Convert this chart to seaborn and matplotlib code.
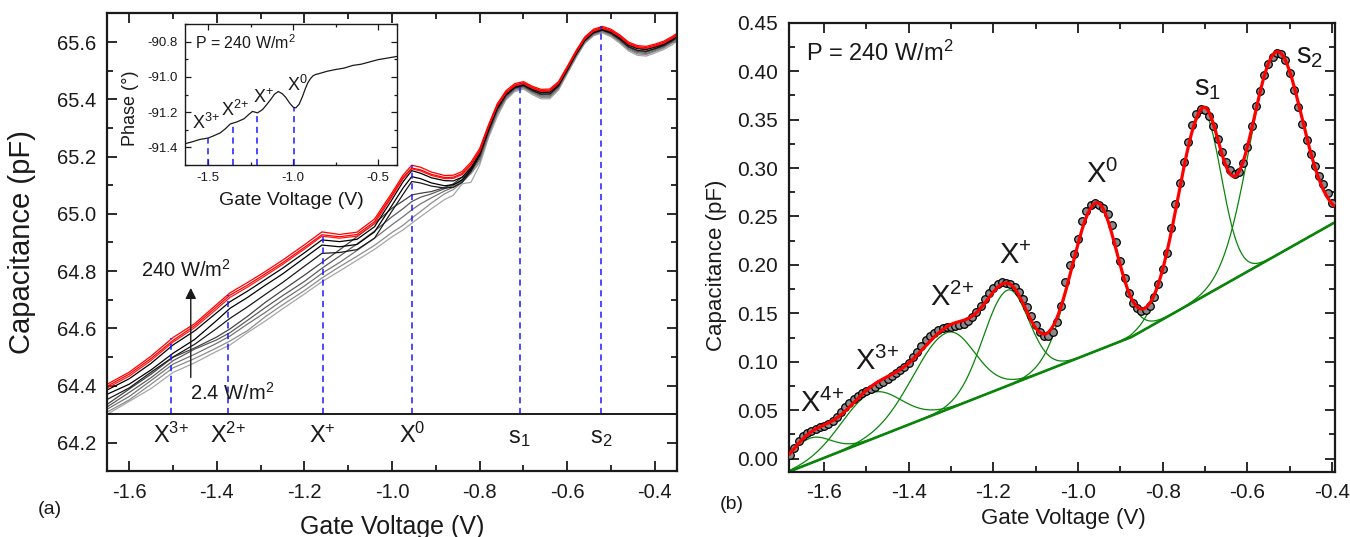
import matplotlib
matplotlib.use("Agg")
import matplotlib.pyplot as plt
from matplotlib.ticker import MultipleLocator, FormatStrFormatter
import numpy as np
import pandas as pd
import seaborn as sns

sns.set_theme(style="ticks", rc={"text.color": "k", "axes.labelcolor": "k",
                                 "xtick.color": "k", "ytick.color": "k",
                                 "axes.edgecolor": "k"})
plt.rcParams["font.family"] = ["Liberation Sans", "DejaVu Sans"]
plt.rcParams["mathtext.fontset"] = "custom"
plt.rcParams["mathtext.rm"] = "Liberation Sans"
plt.rcParams["mathtext.it"] = "Liberation Sans:italic"
plt.rcParams["mathtext.bf"] = "Liberation Sans:bold"
plt.rcParams["axes.unicode_minus"] = False

# ---------------- panel (a): C(V) for increasing illumination power
GATE_V = [-1.65, -1.60, -1.55, -1.50, -1.45, -1.40, -1.37, -1.33, -1.29, -1.25,
          -1.20, -1.16, -1.12, -1.08, -1.04, -1.00, -0.975, -0.955, -0.935, -0.91,
          -0.88, -0.86, -0.84, -0.82, -0.80, -0.78, -0.76, -0.74, -0.72, -0.70,
          -0.68, -0.66, -0.64, -0.62, -0.60, -0.58, -0.56, -0.54, -0.52, -0.50,
          -0.48, -0.46, -0.44, -0.42, -0.40, -0.38, -0.36, -0.35]

RED_1 = [64.405, 64.447, 64.503, 64.568, 64.617, 64.684, 64.724, 64.760, 64.798, 64.838,
         64.892, 64.937, 64.928, 64.936, 64.982, 65.074, 65.135, 65.170, 65.163, 65.146,
         65.134, 65.135, 65.148, 65.180, 65.228, 65.310, 65.384, 65.430, 65.455, 65.462,
         65.446, 65.435, 65.436, 65.462, 65.515, 65.570, 65.618, 65.645, 65.655, 65.645,
         65.625, 65.600, 65.588, 65.585, 65.593, 65.603, 65.620, 65.630]
RED_2 = [64.398, 64.440, 64.495, 64.558, 64.610, 64.676, 64.716, 64.751, 64.790, 64.829,
         64.883, 64.927, 64.920, 64.928, 64.973, 65.066, 65.127, 65.160, 65.154, 65.138,
         65.127, 65.128, 65.141, 65.173, 65.221, 65.305, 65.379, 65.425, 65.450, 65.458,
         65.442, 65.431, 65.432, 65.458, 65.511, 65.566, 65.614, 65.641, 65.651, 65.641,
         65.621, 65.596, 65.584, 65.581, 65.589, 65.599, 65.616, 65.626]
RED_3 = [64.392, 64.433, 64.488, 64.552, 64.603, 64.668, 64.708, 64.744, 64.783, 64.823,
         64.877, 64.922, 64.915, 64.922, 64.966, 65.060, 65.122, 65.157, 65.150, 65.134,
         65.123, 65.124, 65.137, 65.169, 65.217, 65.302, 65.376, 65.422, 65.447, 65.455,
         65.439, 65.428, 65.429, 65.455, 65.508, 65.563, 65.611, 65.638, 65.648, 65.638,
         65.618, 65.593, 65.581, 65.578, 65.586, 65.596, 65.613, 65.623]
BLACK_1 = [64.385, 64.424, 64.478, 64.542, 64.592, 64.655, 64.693, 64.730, 64.770, 64.810,
           64.864, 64.909, 64.903, 64.911, 64.955, 65.050, 65.112, 65.151, 65.142, 65.126,
           65.116, 65.115, 65.128, 65.162, 65.213, 65.297, 65.372, 65.420, 65.445, 65.453,
           65.437, 65.426, 65.427, 65.453, 65.506, 65.561, 65.609, 65.636, 65.646, 65.636,
           65.616, 65.591, 65.579, 65.576, 65.584, 65.594, 65.611, 65.621]
BLACK_2 = [64.370, 64.405, 64.455, 64.513, 64.562, 64.628, 64.670, 64.708, 64.750, 64.790,
           64.846, 64.891, 64.885, 64.893, 64.937, 65.030, 65.090, 65.130, 65.123, 65.108,
           65.098, 65.102, 65.118, 65.155, 65.208, 65.293, 65.369, 65.417, 65.443, 65.451,
           65.435, 65.424, 65.425, 65.451, 65.504, 65.559, 65.607, 65.634, 65.644, 65.634,
           65.614, 65.589, 65.577, 65.574, 65.582, 65.592, 65.609, 65.619]
BLACK_3 = [64.352, 64.392, 64.447, 64.500, 64.545, 64.600, 64.635, 64.675, 64.718, 64.760,
           64.817, 64.862, 64.865, 64.875, 64.915, 65.010, 65.068, 65.113, 65.108, 65.097,
           65.090, 65.093, 65.110, 65.148, 65.203, 65.290, 65.366, 65.414, 65.440, 65.448,
           65.431, 65.418, 65.419, 65.447, 65.501, 65.557, 65.605, 65.632, 65.642, 65.631,
           65.610, 65.584, 65.571, 65.568, 65.577, 65.588, 65.606, 65.616]
GRAY_1 = [64.335, 64.388, 64.440, 64.499, 64.532, 64.570, 64.598, 64.642, 64.690, 64.733,
          64.786, 64.830, 64.874, 64.920, 64.966, 65.020, 65.045, 65.066, 65.072, 65.078,
          65.092, 65.105, 65.128, 65.158, 65.205, 65.288, 65.364, 65.414, 65.441, 65.449,
          65.432, 65.419, 65.419, 65.447, 65.502, 65.558, 65.606, 65.633, 65.643, 65.632,
          65.611, 65.584, 65.571, 65.568, 65.577, 65.589, 65.606, 65.617]
GRAY_2 = [64.326, 64.376, 64.428, 64.487, 64.528, 64.560, 64.585, 64.628, 64.672, 64.714,
          64.764, 64.810, 64.852, 64.895, 64.940, 64.990, 65.018, 65.043, 65.058, 65.070,
          65.088, 65.099, 65.120, 65.152, 65.195, 65.282, 65.359, 65.410, 65.438, 65.446,
          65.428, 65.415, 65.415, 65.444, 65.499, 65.555, 65.604, 65.631, 65.641, 65.629,
          65.607, 65.581, 65.567, 65.564, 65.574, 65.585, 65.603, 65.614]
GRAY_3 = [64.318, 64.362, 64.418, 64.475, 64.510, 64.548, 64.573, 64.615, 64.655, 64.698,
          64.748, 64.792, 64.830, 64.872, 64.915, 64.962, 64.990, 65.014, 65.035, 65.056,
          65.080, 65.093, 65.115, 65.145, 65.190, 65.278, 65.354, 65.406, 65.435, 65.443,
          65.425, 65.411, 65.411, 65.440, 65.496, 65.552, 65.601, 65.628, 65.638, 65.626,
          65.604, 65.577, 65.563, 65.560, 65.570, 65.582, 65.600, 65.611]
GRAY_4 = [64.308, 64.350, 64.405, 64.462, 64.495, 64.532, 64.556, 64.592, 64.640, 64.682,
          64.732, 64.776, 64.815, 64.852, 64.890, 64.935, 64.960, 64.985, 65.008, 65.038,
          65.070, 65.085, 65.110, 65.140, 65.180, 65.272, 65.349, 65.402, 65.431, 65.440,
          65.422, 65.407, 65.407, 65.437, 65.493, 65.549, 65.598, 65.625, 65.635, 65.623,
          65.601, 65.574, 65.559, 65.556, 65.567, 65.579, 65.597, 65.608]
GRAY_5 = [64.300, 64.345, 64.390, 64.446, 64.480, 64.520, 64.542, 64.585, 64.625, 64.668,
          64.720, 64.763, 64.800, 64.838, 64.876, 64.920, 64.944, 64.967, 64.990, 65.018,
          65.050, 65.065, 65.105, 65.110, 65.170, 65.265, 65.339, 65.398, 65.427, 65.436,
          65.417, 65.402, 65.402, 65.432, 65.489, 65.545, 65.595, 65.622, 65.632, 65.619,
          65.596, 65.569, 65.554, 65.551, 65.562, 65.574, 65.591, 65.604]

CURVE_NAMES = ["g5", "g4", "g3", "g2", "g1", "k3", "k2", "k1", "r3", "r2", "r1"]
CURVE_DATA = [GRAY_5, GRAY_4, GRAY_3, GRAY_2, GRAY_1, BLACK_3, BLACK_2, BLACK_1,
              RED_3, RED_2, RED_1]
CURVE_COLORS = ["#a6a6a6", "#8c8c8c", "#747474", "#5c5c5c", "#444444",
                "#1a1a1a", "#000000", "#000000", "#ff1a1a", "#ff0000", "#ff0000"]

# resonance positions marked in panel (a)
MARK_V = [-1.504, -1.374, -1.158, -0.954, -0.709, -0.523]
MARK_TOP = [64.565, 64.716, 64.938, 65.170, 65.462, 65.655]
MARK_LABELS = [r"X$^{\mathregular{3{+}}}$", r"X$^{\mathregular{2{+}}}$", r"X$^{\mathregular{{+}}}$",
               r"X$^{\mathregular{0}}$", r"s$_{\mathregular{1}}$", r"s$_{\mathregular{2}}$"]

# ---------------- inset: phase at 240 W/m2
PHASE_V = [-1.637, -1.60, -1.55, -1.50, -1.47, -1.43, -1.40, -1.37, -1.33, -1.29,
           -1.26, -1.24, -1.21, -1.18, -1.155, -1.13, -1.11, -1.088, -1.065, -1.045,
           -1.02, -1.00, -0.985, -0.965, -0.945, -0.93, -0.915, -0.90, -0.885, -0.87,
           -0.85, -0.80, -0.75, -0.70, -0.65, -0.60, -0.55, -0.50, -0.45, -0.39]
PHASE = [-91.379, -91.370, -91.355, -91.347, -91.335, -91.318, -91.295, -91.267, -91.255, -91.238,
         -91.212, -91.196, -91.204, -91.185, -91.156, -91.125, -91.098, -91.083, -91.095, -91.115,
         -91.150, -91.172, -91.176, -91.155, -91.110, -91.070, -91.035, -91.012, -90.995, -90.987,
         -90.982, -90.968, -90.958, -90.950, -90.935, -90.928, -90.915, -90.902, -90.894, -90.884]
INSET_MARK_V = [-1.50, -1.357, -1.212, -0.994]
INSET_MARK_TOP = [-91.347, -91.267, -91.204, -91.177]
INSET_LABEL_V = [-1.514, -1.343, -1.177, -0.973]
INSET_LABEL_Y = [-91.263, -91.187, -91.115, -91.046]
INSET_LABELS = [r"X$^{\mathregular{3{+}}}$", r"X$^{\mathregular{2{+}}}$",
                r"X$^{\mathregular{{+}}}$", r"X$^{\mathregular{0}}$"]

# ---------------- panel (b): background-subtracted data and peak fit
DOT_V = np.round(np.arange(-1.68, -0.395, 0.01), 2)
DOT_C = [0.004, 0.011, 0.018, 0.023, 0.026, 0.029, 0.031, 0.033, 0.034, 0.036,
         0.039, 0.043, 0.048, 0.053, 0.057, 0.062, 0.065, 0.068, 0.070, 0.072,
         0.074, 0.077, 0.079, 0.082, 0.085, 0.088, 0.091, 0.095, 0.099, 0.105,
         0.110, 0.116, 0.122, 0.127, 0.130, 0.133, 0.135, 0.136, 0.136, 0.137,
         0.138, 0.139, 0.142, 0.146, 0.151, 0.158, 0.165, 0.171, 0.176, 0.180,
         0.182, 0.181, 0.180, 0.177, 0.172, 0.165, 0.157, 0.147, 0.138, 0.131,
         0.127, 0.127, 0.131, 0.141, 0.158, 0.182, 0.200, 0.211, 0.227, 0.245,
         0.256, 0.262, 0.264, 0.262, 0.259, 0.253, 0.241, 0.224, 0.204, 0.186,
         0.171, 0.161, 0.155, 0.152, 0.153, 0.158, 0.167, 0.180, 0.196, 0.212,
         0.238, 0.263, 0.285, 0.306, 0.327, 0.344, 0.356, 0.361, 0.360, 0.354,
         0.343, 0.330, 0.317, 0.306, 0.298, 0.294, 0.296, 0.305, 0.322, 0.343,
         0.364, 0.380, 0.396, 0.407, 0.415, 0.419, 0.418, 0.411, 0.398, 0.381,
         0.363, 0.345, 0.329, 0.314, 0.302, 0.292, 0.283, 0.274, 0.264]

# fit: background line + one peak per state (centre, height, left/right width)
BG_V = [-1.683, -0.876, -0.395]
BG_C = [-0.0135, 0.125, 0.2435]
PEAK_CENTER = [-1.635, -1.489, -1.310, -1.167, -0.958, -0.707, -0.533]
PEAK_HEIGHT = [0.026, 0.0478, 0.0795, 0.0988, 0.153, 0.191, 0.210]
PEAK_WIDTH_L = [0.050, 0.070, 0.080, 0.057, 0.058, 0.057, 0.062]
PEAK_WIDTH_R = [0.050, 0.070, 0.065, 0.050, 0.050, 0.045, 0.062]

PEAK_LABELS = [r"X$^{\mathregular{4{+}}}$", r"X$^{\mathregular{3{+}}}$", r"X$^{\mathregular{2{+}}}$",
               r"X$^{\mathregular{{+}}}$", r"X$^{\mathregular{0}}$", r"s$_{\mathregular{1}}$",
               r"s$_{\mathregular{2}}$"]
PEAK_LABEL_V = [-1.606, -1.475, -1.298, -1.149, -0.942, -0.694, -0.452]
PEAK_LABEL_C = [0.0567, 0.100, 0.166, 0.2089, 0.293, 0.3826, 0.4156]

BLUE = "#1a1aff"
GREEN = "#0a850a"


def style_axes(ax, labelsize, major_len, minor_len, width, spine_lw, pad):
    ax.tick_params(which="both", direction="in", top=True, right=True,
                   width=width, labelsize=labelsize, pad=pad)
    ax.tick_params(which="major", length=major_len)
    ax.tick_params(which="minor", length=minor_len)
    for s in ax.spines.values():
        s.set_linewidth(spine_lw)
        s.set_color("k")


fig = plt.figure(figsize=(13.5, 5.37), dpi=100)
ax1 = fig.add_axes([0.0795, 0.1220, 0.4218, 0.8529])
ax2 = fig.add_axes([0.5844, 0.1216, 0.4044, 0.8361])
axi = fig.add_axes([0.1370, 0.6927, 0.1570, 0.2626])

# ---- panel (a)
df_a = pd.concat([pd.DataFrame({"V": GATE_V, "C": vals, "curve": name})
                  for name, vals in zip(CURVE_NAMES, CURVE_DATA)])
sns.lineplot(data=df_a, x="V", y="C", hue="curve", hue_order=CURVE_NAMES,
             palette=dict(zip(CURVE_NAMES, CURVE_COLORS)), estimator=None,
             sort=False, lw=0.9, legend=False, ax=ax1)
ax1.vlines(MARK_V, 64.3, MARK_TOP, colors=BLUE, linestyles=(0, (4, 3)), lw=1.1)
ax1.axhline(64.3, color="k", lw=1.4)
for v, lab in zip(MARK_V, MARK_LABELS):
    ax1.text(v, 64.2, lab, ha="center", va="baseline", fontsize=17)

ax1.annotate("", xy=(-1.4595, 64.751), xytext=(-1.4595, 64.419),
             arrowprops=dict(arrowstyle="-|>", color="k", lw=1.0, mutation_scale=16))
ax1.text(-1.47, 64.804, r"240 W/m$^{\mathregular{2}}$", ha="center", va="center", fontsize=14.5)
ax1.text(-1.364, 64.374, r"2.4 W/m$^{\mathregular{2}}$", ha="center", va="center", fontsize=14.5)

ax1.set_xlim(-1.65, -0.35)
ax1.set_ylim(64.1, 65.7)
ax1.xaxis.set_major_locator(MultipleLocator(0.2))
ax1.xaxis.set_minor_locator(MultipleLocator(0.1))
ax1.yaxis.set_major_locator(MultipleLocator(0.2))
ax1.yaxis.set_minor_locator(MultipleLocator(0.1))
ax1.xaxis.set_major_formatter(FormatStrFormatter("%.1f"))
ax1.yaxis.set_major_formatter(FormatStrFormatter("%.1f"))
style_axes(ax1, 14.5, 7, 4, 1.3, 1.6, 8)
ax1.set_xlabel("Gate Voltage (V)", fontsize=18)
ax1.set_ylabel("Capacitance (pF)", fontsize=21)
ax1.xaxis.set_label_coords(0.5, -0.095)
ax1.yaxis.set_label_coords(-0.125, 0.5)

# ---- inset
sns.lineplot(x=PHASE_V, y=PHASE, color="k", lw=0.9, sort=False, estimator=None, ax=axi)
axi.vlines(INSET_MARK_V, -91.5, INSET_MARK_TOP, colors=BLUE, linestyles=(0, (4, 3)), lw=1.1)
for v, y, lab in zip(INSET_LABEL_V, INSET_LABEL_Y, INSET_LABELS):
    axi.text(v, y, lab, ha="center", va="center", fontsize=13)
axi.text(0.047, 0.865, r"P = 240 W/m$^{\mathregular{2}}$", transform=axi.transAxes,
         ha="left", va="center", fontsize=11.5)
axi.set_xlim(-1.637, -0.39)
axi.set_ylim(-91.5, -90.7)
axi.xaxis.set_major_locator(MultipleLocator(0.5))
axi.xaxis.set_minor_locator(MultipleLocator(0.25))
axi.yaxis.set_major_locator(MultipleLocator(0.2))
axi.yaxis.set_minor_locator(MultipleLocator(0.1))
axi.xaxis.set_major_formatter(FormatStrFormatter("%.1f"))
axi.yaxis.set_major_formatter(FormatStrFormatter("%.1f"))
style_axes(axi, 9.5, 4.5, 2.5, 0.9, 1.0, 5)
axi.set_xlabel("Gate Voltage (V)", fontsize=14)
axi.set_ylabel("Phase (°)", fontsize=13)
axi.xaxis.set_label_coords(0.5, -0.19)
axi.yaxis.set_label_coords(-0.216, 0.40)
axi.set_facecolor("white")

# ---- panel (b)
fit_v = np.linspace(BG_V[0], BG_V[-1], 600)
bg = np.interp(fit_v, BG_V, BG_C)
total = bg.copy()
for c, a, wl, wr in zip(PEAK_CENTER, PEAK_HEIGHT, PEAK_WIDTH_L, PEAK_WIDTH_R):
    w = np.where(fit_v < c, wl, wr)
    comp = a * np.exp(-(fit_v - c) ** 2 / (2 * w ** 2))
    total = total + comp
    sns.lineplot(x=fit_v, y=bg + comp, color=GREEN, lw=0.9, ax=ax2, zorder=1)
sns.lineplot(x=fit_v, y=bg, color=GREEN, lw=1.9, ax=ax2, zorder=2)
sns.scatterplot(x=DOT_V, y=DOT_C, s=30, color="#8a8a8a", edgecolor="black",
                linewidth=0.9, ax=ax2, zorder=3, legend=False)
sns.lineplot(x=fit_v, y=total, color="#ff0000", lw=2.3, ax=ax2, zorder=4)

for v, y, lab in zip(PEAK_LABEL_V, PEAK_LABEL_C, PEAK_LABELS):
    ax2.text(v, y, lab, ha="center", va="center", fontsize=21)
ax2.text(0.031, 0.9325, r"P = 240 W/m$^{\mathregular{2}}$", transform=ax2.transAxes,
         ha="left", va="center", fontsize=17)

ax2.set_xlim(-1.683, -0.393)
ax2.set_ylim(-0.0135, 0.45)
ax2.xaxis.set_major_locator(MultipleLocator(0.2))
ax2.xaxis.set_minor_locator(MultipleLocator(0.1))
ax2.yaxis.set_major_locator(MultipleLocator(0.05))
ax2.yaxis.set_minor_locator(MultipleLocator(0.025))
ax2.xaxis.set_major_formatter(FormatStrFormatter("%.1f"))
ax2.yaxis.set_major_formatter(FormatStrFormatter("%.2f"))
style_axes(ax2, 15, 7, 4, 1.3, 1.6, 8)
ax2.set_xlabel("Gate Voltage (V)", fontsize=16)
ax2.set_ylabel("Capacitance (pF)", fontsize=16)
ax2.xaxis.set_label_coords(0.502, -0.081)
ax2.yaxis.set_label_coords(-0.1136, 0.46)

fig.text(0.037, 0.052, "(a)", ha="center", va="center", fontsize=14)
fig.text(0.542, 0.0596, "(b)", ha="center", va="center", fontsize=14)

fig.savefig("out.png", dpi=100)
